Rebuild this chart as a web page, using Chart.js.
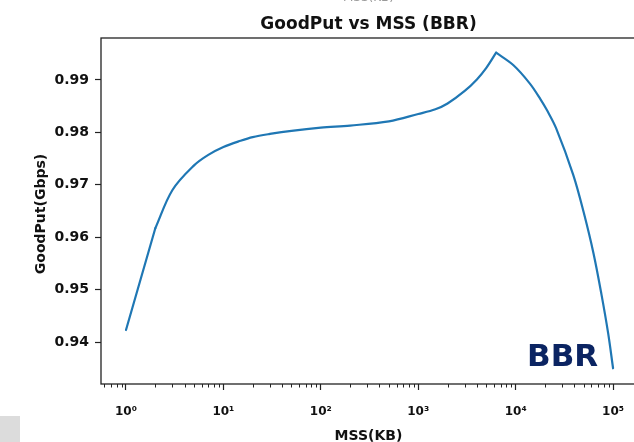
<!DOCTYPE html>
<html>
<head>
<meta charset="utf-8">
<script src="https://cdn.jsdelivr.net/npm/chart.js@4"></script>
<style>
  body { margin: 0; background: #fff; }
  #wrap { width: 634px; height: 442px; position: relative; }
</style>
</head>
<body>
<div id="wrap"><canvas id="goodputChart"></canvas></div>
<script>
// MSS (KB) and goodput (Gbps)
const mssKB = [1, 2, 3, 5, 7, 10, 15, 20, 30, 50, 100, 200, 500, 1000, 1500, 2000,
  3000, 4000, 5000, 6300, 9500, 14000, 18000, 21000, 26000, 39000, 50000, 63000,
  76000, 89000, 100000];
const goodputGbps = [0.9423, 0.9617, 0.9690, 0.9737, 0.9757, 0.9772, 0.9784, 0.9791,
  0.9797, 0.9803, 0.9809, 0.9813, 0.9821, 0.9835, 0.9844, 0.9855, 0.9879, 0.9901,
  0.9923, 0.9952, 0.9928, 0.9893, 0.9863, 0.9842, 0.9808, 0.9719, 0.9647, 0.9569,
  0.9491, 0.9417, 0.9350];

const xMajorTicks = [1, 10, 100, 1000, 10000, 100000];
const xMajorLabels = ["10⁰", "10¹", "10²", "10³", "10⁴", "10⁵"];
const yTicks = [0.94, 0.95, 0.96, 0.97, 0.98, 0.99];

const lineColor = "#1f77b4";
const ink = "#111";

// split at x=2 kink and at the peak so the corners stay sharp
const peakIdx = goodputGbps.indexOf(Math.max(...goodputGbps));
function points(from, to) {
  const out = [];
  for (let i = from; i <= to; i++) out.push({ x: mssKB[i], y: goodputGbps[i] });
  return out;
}
function lineSet(data, tension) {
  return {
    data: data,
    borderColor: lineColor,
    borderWidth: 2.2,
    borderCapStyle: "round",
    borderJoinStyle: "round",
    pointRadius: 0,
    fill: false,
    tension: tension,
  };
}

// minor ticks on the log axis
function minorTicks(min, max) {
  const out = [];
  for (let e = -1; e <= 5; e++) {
    for (let m = 2; m <= 9; m++) {
      const v = m * Math.pow(10, e);
      if (v > min && v < max) out.push(v);
    }
  }
  return out;
}

const decorPlugin = {
  id: "decor",
  afterDraw(chart) {
    const ctx = chart.ctx;
    const area = chart.chartArea;
    const xs = chart.scales.x;
    ctx.save();

    // frame
    ctx.strokeStyle = "#222";
    ctx.lineWidth = 1.3;
    ctx.strokeRect(area.left, area.top, area.right - area.left + 2, area.bottom - area.top);

    // minor ticks
    ctx.lineWidth = 1;
    ctx.beginPath();
    minorTicks(xs.min, xs.max).forEach((v) => {
      const px = Math.round(xs.getPixelForValue(v)) + 0.5;
      ctx.moveTo(px, area.bottom);
      ctx.lineTo(px, area.bottom + 3.5);
    });
    ctx.stroke();

    // titles
    ctx.fillStyle = ink;
    ctx.textAlign = "center";
    ctx.textBaseline = "alphabetic";
    const cx = (area.left + 636) / 2;
    ctx.font = "bold 17px 'DejaVu Sans'";
    ctx.fillText("GoodPut vs MSS (BBR)", cx, 29);
    ctx.font = "bold 14px 'DejaVu Sans'";
    ctx.fillText("MSS(KB)", cx, 440);

    ctx.save();
    ctx.translate(41, (area.top + area.bottom) / 2 + 3);
    ctx.rotate(-Math.PI / 2);
    ctx.textBaseline = "middle";
    ctx.fillText("GoodPut(Gbps)", 0, 0);
    ctx.restore();

    // clipped label from the figure above
    ctx.fillStyle = "#999";
    ctx.font = "12px 'DejaVu Sans'";
    ctx.fillText("MSS(KB)", cx, 1);

    // BBR tag
    ctx.fillStyle = "#0b2462";
    ctx.font = "bold 31px 'DejaVu Sans'";
    ctx.textAlign = "left";
    ctx.fillText("BBR", 527, 366);

    // grey box at lower left
    ctx.fillStyle = "#dcdcdc";
    ctx.fillRect(0, 416, 20, 26);
    ctx.restore();
  },
};

new Chart(document.getElementById("goodputChart"), {
  type: "line",
  data: {
    datasets: [
      lineSet(points(0, 1), 0),
      lineSet(points(1, peakIdx), 0.35),
      lineSet(points(peakIdx, mssKB.length - 1), 0.35),
    ],
  },
  options: {
    responsive: true,
    maintainAspectRatio: false,
    animation: false,
    layout: { padding: { top: 38, left: 0, right: 0, bottom: 0 } },
    plugins: {
      legend: { display: false },
      tooltip: { enabled: false },
      title: { display: false },
    },
    scales: {
      x: {
        type: "logarithmic",
        min: 0.554,
        max: 164000,
        bounds: "data",
        afterBuildTicks: (scale) => {
          scale.ticks = xMajorTicks.map((v) => ({ value: v }));
        },
        afterFit: (scale) => {
          scale.height = 58;
          scale.paddingLeft = 0;
          scale.paddingRight = 0;
        },
        ticks: {
          autoSkip: false,
          maxRotation: 0,
          padding: 15,
          color: ink,
          font: { family: "DejaVu Sans", size: 12, weight: "bold" },
          callback: (v) => {
            const i = xMajorTicks.indexOf(v);
            return i >= 0 ? xMajorLabels[i] : "";
          },
        },
        grid: {
          drawOnChartArea: false,
          drawTicks: true,
          tickLength: 6,
          tickWidth: 1.2,
          tickColor: "#222",
        },
        border: { display: false },
      },
      y: {
        type: "linear",
        min: 0.932,
        max: 0.998,
        bounds: "data",
        afterBuildTicks: (scale) => {
          scale.ticks = yTicks.map((v) => ({ value: v }));
        },
        afterFit: (scale) => {
          scale.width = 101;
          scale.paddingTop = 0;
          scale.paddingBottom = 0;
        },
        ticks: {
          padding: 6,
          color: ink,
          font: { family: "DejaVu Sans", size: 14, weight: "bold" },
          callback: (v) => Number(v).toFixed(2),
        },
        grid: {
          drawOnChartArea: false,
          drawTicks: true,
          tickLength: 6,
          tickWidth: 1.2,
          tickColor: "#222",
        },
        border: { display: false },
      },
    },
  },
  plugins: [decorPlugin],
});
</script>
</body>
</html>
